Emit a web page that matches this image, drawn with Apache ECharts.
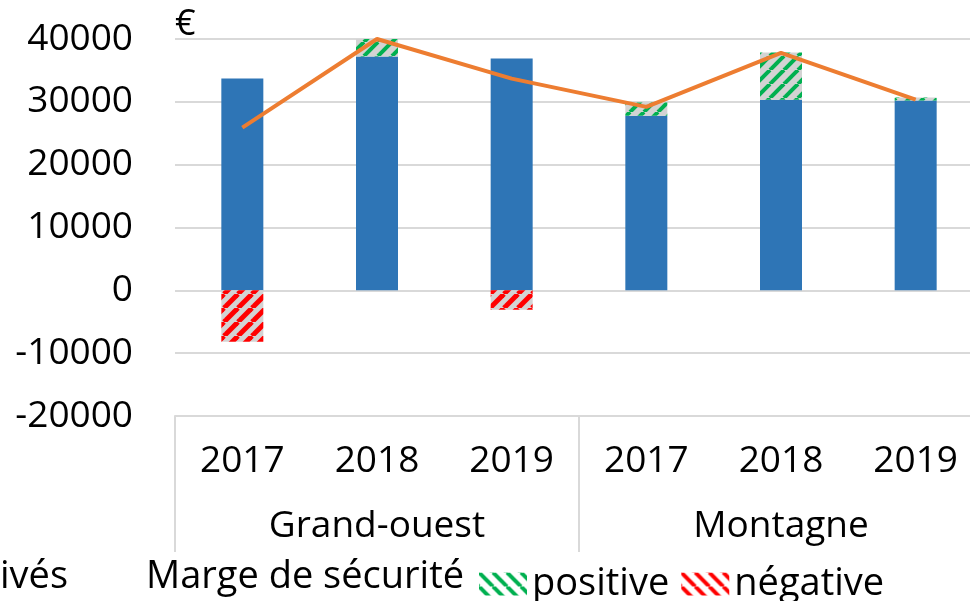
<!DOCTYPE html>
<html>
<head>
<meta charset="utf-8">
<script src="https://cdn.jsdelivr.net/npm/echarts@6/dist/echarts.min.js"></script>
<style>
 html,body{margin:0;padding:0;background:#fff;}
 #main{width:970px;height:601px;}
</style>
</head>
<body>
<div id="main"></div>
<script>
var years = ['2017', '2018', '2019', '2017', '2018', '2019'];
var groups = ['Grand-ouest', 'Montagne'];
var base = [33700, 37200, 36900, 27800, 30350, 30200];
var margePositive = ['-', 2900, '-', 2100, 7500, 500];
var margeNegative = [-8200, '-', -3100, '-', '-', '-'];
var courbe = [25900, 40000, 33700, 29200, 37800, 30350];

var FONT = 'Open Sans';

// hachures : fond gris + traits en diagonale
function hatch(bg, fg, w, back) {
    var s = 14;
    var c = document.createElement('canvas');
    c.width = s; c.height = s;
    var g = c.getContext('2d');
    if (bg) { g.fillStyle = bg; g.fillRect(0, 0, s, s); }
    g.strokeStyle = fg;
    g.lineWidth = w;
    [-s, 0, s].forEach(function (o) {
        g.beginPath();
        if (back) { g.moveTo(o, 0); g.lineTo(o + s, s); }
        else { g.moveTo(o, s); g.lineTo(o + s, 0); }
        g.stroke();
    });
    return { image: c, repeat: 'repeat' };
}

var chart = echarts.init(document.getElementById('main'));

var option = {
    animation: false,
    textStyle: { fontFamily: FONT },
    grid: { left: 175, width: 808, top: 39, height: 377, outerBoundsMode: 'none', containLabel: false },
    legend: {
        left: 474,
        top: 560,
        itemWidth: 48,
        itemHeight: 23,
        itemGap: 12,
        icon: 'rect',
        textStyle: { fontSize: 38, color: '#000', fontFamily: FONT },
        data: [
            { name: 'positive', itemStyle: { color: hatch(null, '#00b050', 4, true) } },
            { name: 'négative', itemStyle: { color: hatch(null, '#ff0000', 4, true) } }
        ]
    },
    graphic: [
        { type: 'text', left: 0, top: 558, style: { text: 'ivés', font: '38px "' + FONT + '"', fill: '#000' } },
        { type: 'text', left: 146, top: 558, style: { text: 'Marge de sécurité', font: '38px "' + FONT + '"', fill: '#000' } }
    ],
    xAxis: [{
        type: 'category',
        data: years,
        axisLine: { onZero: false, lineStyle: { color: '#d9d9d9', width: 2 } },
        axisTick: {
            show: true,
            length: 136,
            interval: function (i) { return i % 3 === 0; },
            lineStyle: { color: '#d9d9d9', width: 2 }
        },
        axisLabel: { color: '#000', fontSize: 37, margin: 27, fontFamily: FONT }
    }, {
        type: 'category',
        data: groups,
        position: 'bottom',
        axisLine: { show: false },
        axisTick: { show: false },
        axisLabel: { color: '#000', fontSize: 37, margin: 92, fontFamily: FONT }
    }],
    yAxis: {
        type: 'value',
        min: -20000,
        max: 40000,
        interval: 10000,
        name: '€',
        nameGap: 14,
        nameTextStyle: { color: '#000', fontSize: 36, align: 'left', verticalAlign: 'middle', fontFamily: FONT },
        axisLine: { show: false },
        axisTick: { show: false },
        axisLabel: {
            color: '#000', fontSize: 37, margin: 42, fontFamily: FONT,
            formatter: function (v) { return String(v); }
        },
        splitLine: { lineStyle: { color: '#d9d9d9', width: 2 } }
    },
    series: [{
        name: 'base',
        type: 'bar',
        stack: 'a',
        barWidth: 42,
        data: base,
        itemStyle: { color: '#2e75b6' }
    }, {
        name: 'positive',
        type: 'bar',
        stack: 'a',
        barWidth: 42,
        data: margePositive,
        itemStyle: { color: hatch('#d3d3d3', '#00b050', 4, false) }
    }, {
        name: 'négative',
        type: 'bar',
        stack: 'a',
        barWidth: 42,
        data: margeNegative,
        itemStyle: { color: hatch('#d3d3d3', '#ff0000', 5, false) }
    }, {
        name: 'courbe',
        type: 'line',
        data: courbe,
        showSymbol: false,
        symbol: 'none',
        z: 5,
        lineStyle: { color: '#ed7d31', width: 4 }
    }]
};
chart.setOption(option);
</script>
</body>
</html>
